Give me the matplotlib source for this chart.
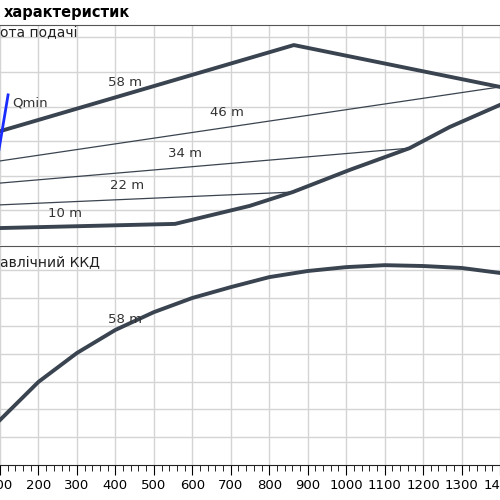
import matplotlib
matplotlib.use("Agg")
import matplotlib.pyplot as plt

# top panel: head curves (x = flow, y in grid units)
h58_x = [100, 864, 1400]
h58_y = [3.29, 5.78, 4.57]
env_x = [100, 555, 749, 861, 1009, 1165, 1269, 1400]
env_y = [0.49, 0.61, 1.13, 1.53, 2.17, 2.80, 3.41, 4.05]
h46_x, h46_y = [100, 1400], [2.43, 4.57]
h34_x, h34_y = [100, 1165], [1.79, 2.80]
h22_x, h22_y = [100, 861], [1.16, 1.53]
qmin_x, qmin_y = [95, 121], [2.60, 4.34]
head_labels = [("58 m", 425, 4.6), ("46 m", 690, 3.72), ("34 m", 580, 2.55),
               ("22 m", 430, 1.62), ("10 m", 268, 0.82)]

# bottom panel: efficiency
eff_x = [100, 200, 300, 400, 500, 600, 700, 800, 900, 1000, 1100, 1200, 1300, 1400]
eff_y = [1.62, 2.99, 4.03, 4.86, 5.50, 6.01, 6.40, 6.76, 6.98, 7.12, 7.19, 7.16, 7.09, 6.91]

x_ticks = list(range(100, 1500, 100))

dark = "#3a4450"
grid = "#d4d4d4"

fig = plt.figure(figsize=(5, 5), dpi=100)
ax1 = fig.add_axes([0, 0.51, 1, 0.44])
ax2 = fig.add_axes([0, 0.07, 1, 0.438])

for ax in (ax1, ax2):
    ax.set_xlim(100, 1400)
    ax.set_xticks(x_ticks)
    ax.grid(True, color=grid, lw=1)
    ax.set_axisbelow(True)
    for s in ("left", "right"):
        ax.spines[s].set_visible(False)
    ax.spines["top"].set_color("#555555")
    ax.spines["bottom"].set_color("#555555")
    ax.tick_params(axis="y", left=False, labelleft=False)

ax1.set_ylim(0, 6.36)
ax1.set_yticks(range(1, 7))
ax1.tick_params(axis="x", bottom=False, labelbottom=False)
ax1.spines["bottom"].set_visible(False)
ax1.plot(h58_x, h58_y, color=dark, lw=2.8)
ax1.plot(env_x, env_y, color=dark, lw=2.8)
for xs, ys in ((h46_x, h46_y), (h34_x, h34_y), (h22_x, h22_y)):
    ax1.plot(xs, ys, color=dark, lw=0.9)
ax1.plot(qmin_x, qmin_y, color="#1a2cff", lw=2)
ax1.text(131, 4.0, "Qmin", fontsize=9.5, color="#333333")
for txt, x, y in head_labels:
    ax1.text(x, y, txt, fontsize=9.5, color="#333333", ha="center")
ax1.text(100, 6.0, "ота подачі", fontsize=10, color="#222222")

ax2.set_ylim(0, 7.88)
ax2.set_yticks(range(1, 8))
ax2.plot(eff_x, eff_y, color=dark, lw=2.8)
ax2.text(425, 5.1, "58 m", fontsize=9.5, color="#333333", ha="center")
ax2.text(100, 7.15, "авлічний ККД", fontsize=10, color="#222222")
ax2.set_xticks(range(100, 1420, 20), minor=True)
ax2.tick_params(axis="x", which="major", length=7, direction="out", labelsize=9.5, pad=3)
ax2.tick_params(axis="x", which="minor", length=4, direction="out")
ax2.spines["bottom"].set_color("#222222")

fig.text(0.008, 0.975, "характеристик", fontsize=10.5, fontweight="bold", va="center")

fig.savefig("out.png", dpi=100)
